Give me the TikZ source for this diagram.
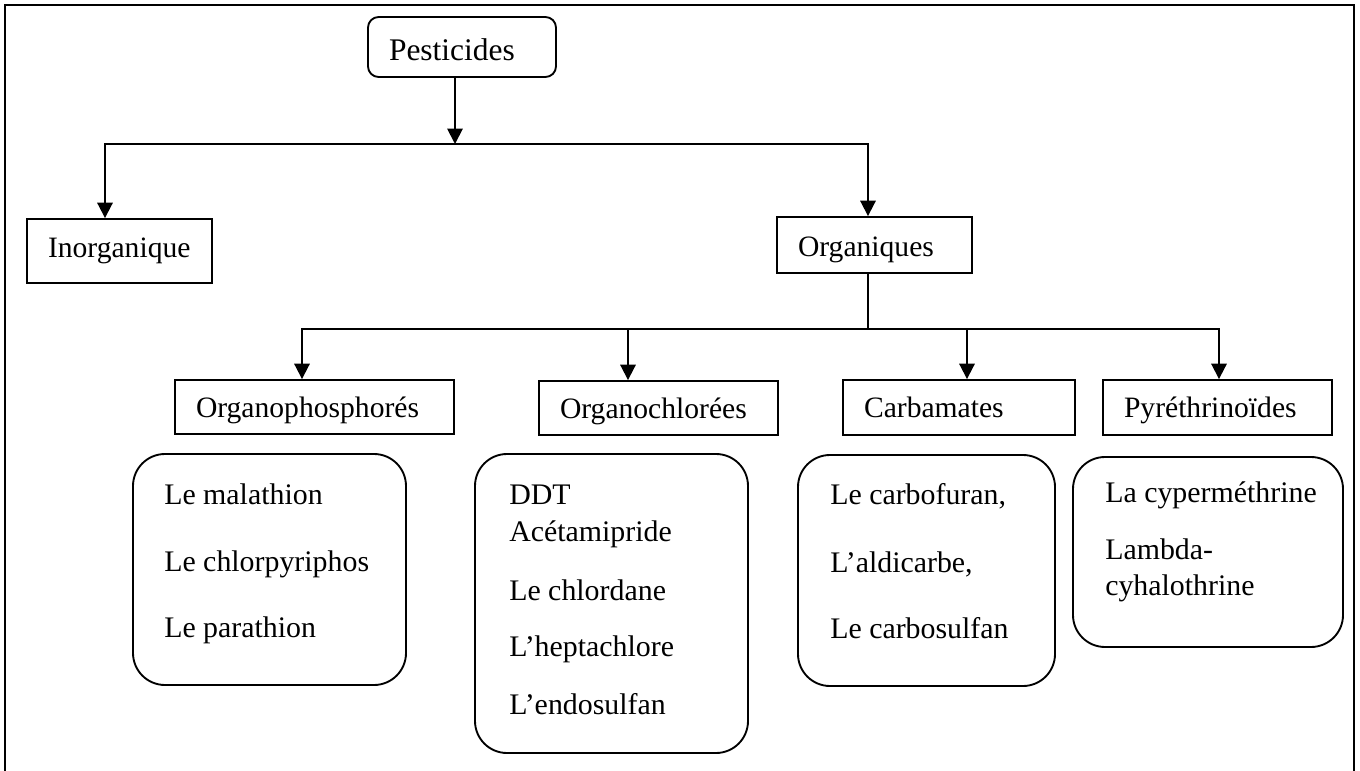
\documentclass[tikz,border=0pt]{standalone}
\usepackage{fontspec}
\setmainfont{Liberation Serif}
\usetikzlibrary{arrows.meta}
\newlength{\ppx}\setlength{\ppx}{0.75pt}
\begin{document}
\begin{tikzpicture}[x=0.75pt,y=-0.75pt,
  frame/.style={line width=1.5pt},
  hdr/.style={draw, line width=1.4pt, rectangle, inner ysep=0pt, inner xsep=21\ppx,
    align=left, text depth=0pt, font=\fontsize{22.2}{26}\selectfont},
  cbox/.style={draw, line width=1.4pt, rounded corners=24pt, inner sep=0pt},
  lst/.style={anchor=base west, inner sep=0pt, font=\fontsize{22.4}{26}\selectfont},
  conn/.style={line width=1.4pt},
  tip/.style={conn, -{Triangle[width=11.5pt,length=11.5pt]}},
  tips/.style={conn, {Triangle[width=11.5pt,length=11.5pt]}-{Triangle[width=11.5pt,length=11.5pt]}}
]
\useasboundingbox (0,0) rectangle (1360,771);
% outer frame (open at the bottom)
\coordinate (fa) at (5,771);
\coordinate (fb) at (5,5);
\coordinate (fc) at (1354,5);
\coordinate (fd) at (1354,771);
\draw[frame] (fa) -- (fb) -- (fc) -- (fd);

% header boxes
\node[hdr, rounded corners=8pt, minimum width=188\ppx, minimum height=60\ppx, text width=146\ppx,
  text height=19.5pt, font=\fontsize{23.6}{28}\selectfont] (pest) at (462,47) {Pesticides};
\node[hdr, minimum width=185\ppx, minimum height=64\ppx, text width=143\ppx, text height=9pt] (inorg) at (119.5,251) {Inorganique};
\node[hdr, minimum width=195\ppx, minimum height=56\ppx, text width=153\ppx, text height=16.5pt] (org) at (874.5,245) {Organiques};
\node[hdr, minimum width=279\ppx, minimum height=54\ppx, text width=237\ppx, text height=15pt] (oph) at (314.5,407) {Organophosphorés};
\node[hdr, minimum width=239\ppx, minimum height=54\ppx, text width=197\ppx, text height=15pt] (och) at (658.5,408) {Organochlorées};
\node[hdr, minimum width=232\ppx, minimum height=55\ppx, text width=190\ppx, text height=15pt] (carb) at (959,407.5) {Carbamates};
\node[hdr, minimum width=229\ppx, minimum height=55\ppx, text width=187\ppx, text height=15pt] (pyr) at (1217.5,407.5) {Pyréthrinoïdes};

% content boxes
\node[cbox, minimum width=273\ppx, minimum height=231\ppx] (c1) at (269.5,569.5) {};
\node[cbox, minimum width=273\ppx, minimum height=299\ppx] (c2) at (611.5,603.5) {};
\node[cbox, minimum width=257\ppx, minimum height=231\ppx] (c3) at (926.5,570.5) {};
\node[cbox, minimum width=270\ppx, minimum height=190\ppx] (c4) at (1208,552) {};

% content texts
\node[lst] (t11) at (164,504) {Le malathion};
\node[lst] (t12) at (164,571) {Le chlorpyriphos};
\node[lst] (t13) at (164,637) {Le parathion};
\node[lst] (t21) at (509,504) {DDT};
\node[lst] (t22) at (509,541) {Acétamipride};
\node[lst] (t23) at (509,600) {Le chlordane};
\node[lst] (t24) at (509,656) {L’heptachlore};
\node[lst] (t25) at (509,714) {L’endosulfan};
\node[lst] (t31) at (830,504) {Le carbofuran,};
\node[lst] (t32) at (830,572) {L’aldicarbe,};
\node[lst] (t33) at (830,638) {Le carbosulfan};
\node[lst] (t41) at (1105,502) {La cyperméthrine};
\node[lst] (t42) at (1105,559) {Lambda-};
\node[lst] (t43) at (1105,595) {cyhalothrine};

% connectors, first level
\coordinate (j1) at (455,144);
\coordinate (b1l) at (105,144);
\coordinate (b1r) at (868,144);
\draw[tip] (pest.south -| j1) -- (j1);
\draw[tips] (inorg.north -| b1l) -- (b1l) -- (b1r) -- (org.north -| b1r);

% connectors, second level
\coordinate (j2) at (868,329);
\coordinate (b2a) at (302,329);
\coordinate (b2b) at (628,329);
\coordinate (b2c) at (967,329);
\coordinate (b2d) at (1219,329);
\draw[line width=1pt] (org.south -| j2) -- (j2);
\draw[tips] (oph.north -| b2a) -- (b2a) -- (b2d) -- (pyr.north -| b2d);
\draw[tip] (b2b) -- (och.north -| b2b);
\draw[tip] (b2c) -- (carb.north -| b2c);
\end{tikzpicture}
\end{document}
